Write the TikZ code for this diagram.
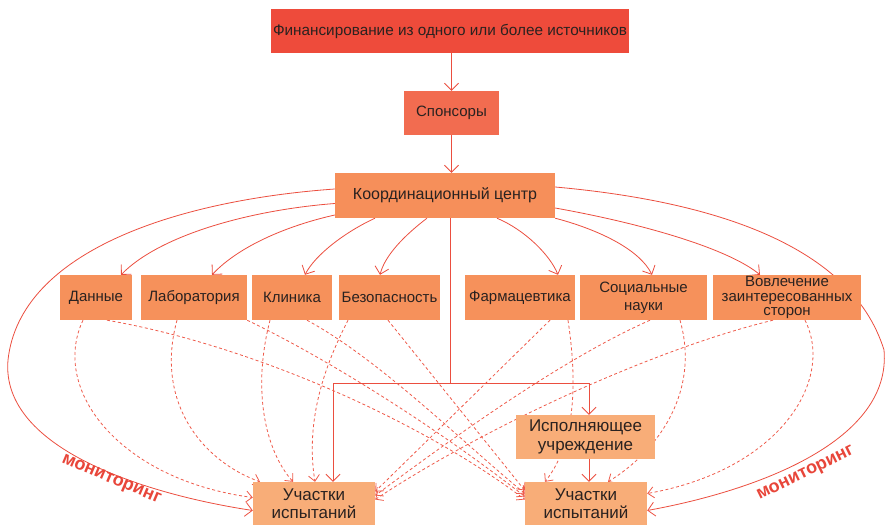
\documentclass[tikz,border=0pt]{standalone}
\usepackage{fontspec}
\setmainfont{Liberation Sans}
\usetikzlibrary{arrows.meta,backgrounds}
\definecolor{cfin}{HTML}{EE4B3B}
\definecolor{cspon}{HTML}{F26C50}
\definecolor{ccoord}{HTML}{F68F5A}
\definecolor{cmid}{HTML}{F6915B}
\definecolor{clight}{HTML}{F8AD78}
\definecolor{txt}{HTML}{2A2220}
\definecolor{lc}{HTML}{EB4E3F}
\definecolor{dc}{HTML}{EE5A4A}
\definecolor{mon}{HTML}{E8463A}
\begin{document}
\begin{tikzpicture}[x=1pt,y=-1pt,
  box/.style={draw=none, inner sep=0pt, align=center, text=txt, font=\fontsize{15}{16}\selectfont},
  con/.style={draw=lc, line width=0.8pt, -{Straight Barb[length=7pt,width=14pt]}},
  plain/.style={draw=lc, line width=0.8pt},
  dsh/.style={draw=dc, line width=0.8pt, dash pattern=on 3pt off 2.5pt, -{Straight Barb[length=6pt,width=11pt]}},
  mlabel/.style={text=mon, font=\bfseries\fontsize{18}{18}\selectfont}
]
\useasboundingbox (0,0) rectangle (887,525);

\node[box, fill=cfin, minimum width=358pt, minimum height=44pt, font=\fontsize{15.3}{16}\selectfont] (fin) at (450,31) {Финансирование из одного или более источников};
\node[box, fill=cspon, minimum width=95pt, minimum height=44pt] (spon) at (451.5,113) {Спонсоры};
\node[box, fill=ccoord, minimum width=220pt, minimum height=45pt, font=\fontsize{16}{17}\selectfont] (coord) at (445,195.5) {Координационный центр};

\node[box, fill=cmid, minimum width=72pt, minimum height=45pt] (dat) at (96,297.5) {Данные};
\node[box, fill=cmid, minimum width=106pt, minimum height=45pt] (lab) at (194,297.5) {Лаборатория};
\node[box, fill=cmid, minimum width=80pt, minimum height=45pt] (kli) at (292,297.5) {Клиника};
\node[box, fill=cmid, minimum width=101pt, minimum height=45pt] (bez) at (389.5,297.5) {Безопасность};
\node[box, fill=cmid, minimum width=110pt, minimum height=45pt] (far) at (520,297.5) {Фармацевтика};
\node[box, fill=cmid, minimum width=127pt, minimum height=45pt, font=\fontsize{15}{18}\selectfont] (soc) at (643.5,297.5) {Социальные\\науки};
\node[box, fill=cmid, minimum width=148pt, minimum height=45pt, font=\fontsize{15}{14.5}\selectfont] (vov) at (787,297.5) {Вовлечение\\заинтересованных\\сторон};

\node[box, fill=clight, minimum width=139pt, minimum height=44pt, font=\fontsize{17}{19}\selectfont] (isp) at (585.5,437) {Исполняющее\\учреждение};
\node[box, fill=clight, minimum width=122pt, minimum height=43pt, font=\fontsize{17}{18}\selectfont] (L) at (314,503.5) {Участки\\испытаний};
\node[box, fill=clight, minimum width=122pt, minimum height=43pt, font=\fontsize{17}{18}\selectfont] (R) at (586,503.5) {Участки\\испытаний};

\node[mlabel, rotate=-23] (m1) at (111,480) {мониторинг};
\node[mlabel, rotate=26] (m2) at (806,474) {мониторинг};

\begin{scope}[on background layer]
\draw[con] (spon.north |- fin.south) -- (spon.north);
\draw[con] (spon.south) -- (spon.south |- coord.north);

\draw[con] ([yshift=-8pt]coord.west) .. controls (250,210) and (160,235) .. ([xshift=25pt]dat.north);
\draw[con] ([yshift=-19.5pt]coord.west) .. controls (290,225) and (240,245) .. ([xshift=18pt]lab.north);
\draw[con] ([xshift=-70pt]coord.south) .. controls (345,232) and (315,255) .. ([xshift=13pt]kli.north);
\draw[con] ([xshift=-18pt]coord.south) .. controls (405,235) and (385,255) .. ([xshift=-9.5pt]bez.north);
\draw[con] ([xshift=52pt]coord.south) .. controls (525,230) and (550,255) .. ([xshift=38pt]far.north);
\draw[con] (coord.south east) .. controls (600,230) and (640,250) .. ([xshift=8.5pt]soc.north);
\draw[con] ([yshift=-12.5pt]coord.east) .. controls (650,225) and (730,250) .. ([xshift=-27pt]vov.north);

\draw[con] ([yshift=6.5pt]coord.west) .. controls (180,200) and (20,250) .. (8,360) .. controls (0,450) and (150,495) .. ([yshift=-7pt]L.west);
\draw[con] ([yshift=8.5pt]coord.east) .. controls (700,200) and (850,240) .. (884,350) .. controls (892,440) and (760,490) .. ([yshift=-7pt]R.east);

\coordinate (j) at (450,383);
\draw[plain] (coord.south -| j) -- (j);
\draw[con] (j) -| ([xshift=19pt]L.north);
\draw[con] (j) -| ([xshift=3.5pt]isp.north);
\draw[con] ([xshift=3.5pt]isp.south) -- ([xshift=3pt]R.north);

\draw[dsh] ([xshift=-13pt]dat.south) .. controls (50,390) and (120,480) .. ([yshift=6pt]L.west);
\draw[dsh] ([xshift=-17pt]lab.south) .. controls (155,400) and (200,460) .. ([xshift=-54pt]L.north);
\draw[dsh] ([xshift=-22pt]kli.south) .. controls (252,390) and (265,450) .. ([xshift=-21pt]L.north);
\draw[dsh] ([xshift=-41.5pt]bez.south) .. controls (325,365) and (305,420) .. ([xshift=1pt]L.north);

\draw[dsh] ([xshift=11pt]dat.south) .. controls (250,345) and (420,420) .. ([yshift=4pt]R.west);
\draw[dsh] (lab.south east) .. controls (330,360) and (440,430) .. ([yshift=7pt]R.west);
\draw[dsh] ([xshift=15pt]kli.south) .. controls (380,360) and (460,440) .. ([yshift=10pt]R.west);
\draw[dsh] ([xshift=-1.5pt]bez.south) -- ([yshift=13pt]R.west);

\draw[dsh] ([xshift=30pt]far.south) -- ([yshift=12pt]L.east);
\draw[dsh] ([xshift=6.5pt]soc.south) .. controls (560,360) and (450,440) .. ([yshift=8pt]L.east);
\draw[dsh] ([xshift=-14pt]vov.south) .. controls (650,350) and (480,430) .. ([yshift=4pt]L.east);

\draw[dsh] ([xshift=48pt]far.south) .. controls (580,400) and (570,450) .. ([xshift=-41pt]R.north);
\draw[dsh] ([xshift=36.5pt]soc.south) .. controls (700,390) and (660,450) .. ([xshift=22pt]R.north);
\draw[dsh] ([xshift=18pt]vov.south) .. controls (835,380) and (780,470) .. ([yshift=10pt]R.east);
\end{scope}
\end{tikzpicture}
\end{document}
